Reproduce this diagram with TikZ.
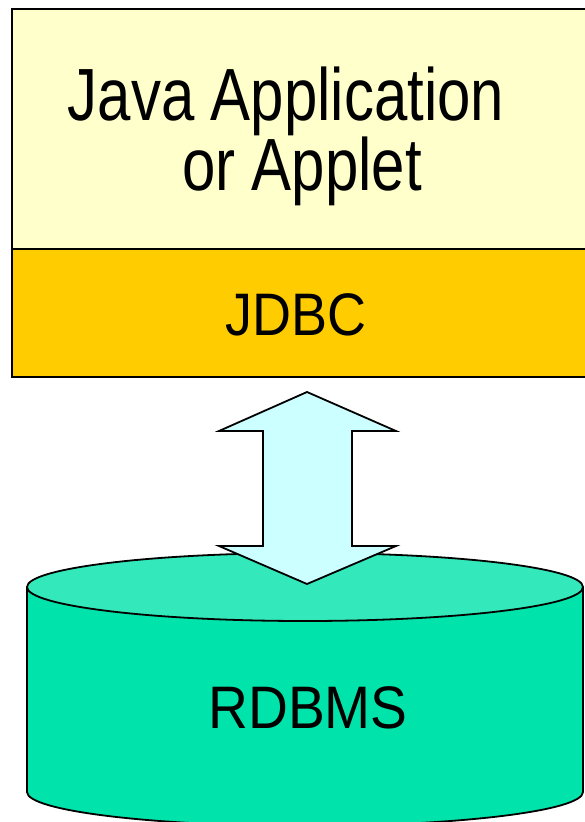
\documentclass[tikz,border=0pt]{standalone}
\usepackage{fontspec}
\setmainfont{Liberation Sans}
\newfontfamily\narrowA[FakeStretch=0.81]{Liberation Sans}
\newfontfamily\narrowB[FakeStretch=0.90]{Liberation Sans}
\newfontfamily\narrowC[FakeStretch=0.92]{Liberation Sans}
\definecolor{appfill}{HTML}{FFFFCC}
\definecolor{jdbcfill}{HTML}{FFCC00}
\definecolor{arrowfill}{HTML}{CCFFFF}
\definecolor{dbbody}{HTML}{00E3AA}
\definecolor{dbtop}{HTML}{33E9BB}
\begin{document}
\begin{tikzpicture}[x=1pt,y=-1pt,
  layer/.style={draw=black, line width=2.4pt, anchor=north west, inner sep=0pt},
  outline/.style={draw=black, line width=1.8pt, line join=miter},
  label/.style={inner sep=0pt, text=black}]
\useasboundingbox (0,0) rectangle (584,822);

% application layer and JDBC layer
\node[layer, fill=appfill, minimum width=590pt, minimum height=240pt] (app) at (11,8) {};
\node[layer, fill=jdbcfill, minimum width=590pt, minimum height=128pt] (jdbc) at (11,248) {};

% database cylinder
\fill[dbbody] (27,587) -- (27,792) arc[start angle=180, end angle=360, x radius=278, y radius=-34] -- (583,587) -- cycle;
\draw[outline] (27,587) -- (27,792) arc[start angle=180, end angle=360, x radius=278, y radius=-34] -- (583,587);
\draw[outline, fill=dbtop] (305,587) ellipse[x radius=278, y radius=34];

% two-way arrow between JDBC and the database
\draw[outline, fill=arrowfill]
  (307,392) -- (396,431) -- (352,431) -- (352,546) -- (396,546) -- (307,584)
  -- (219,546) -- (263,546) -- (263,431) -- (219,431) -- cycle;

% labels
\node[label, anchor=base, align=center,
      font=\narrowA\fontsize{74}{63}\selectfont] (t1) at (302,190)
  {Java Application\hspace*{32pt}\\or Applet};
\node[label, anchor=base, font=\narrowB\fontsize{60}{60}\selectfont] (t3) at (296,335) {JDBC};
\node[label, anchor=base, font=\narrowC\fontsize{60}{60}\selectfont] (t4) at (308,728) {RDBMS};
\end{tikzpicture}
\end{document}
